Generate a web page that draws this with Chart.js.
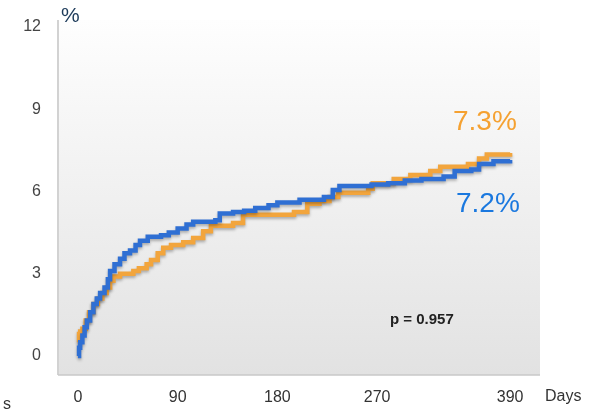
<!DOCTYPE html>
<html>
<head>
<meta charset="utf-8">
<script src="https://cdn.jsdelivr.net/npm/chart.js@4.4.1/dist/chart.umd.min.js"></script>
<style>
  html, body { margin: 0; padding: 0; background: #fff; }
  #wrap { width: 599px; height: 419px; position: relative; }
</style>
</head>
<body>
<div id="wrap"><canvas id="chart-curvas"></canvas></div>
<script>
// dados (dias, % acumulado)
const blueDays   = [0, 1, 2, 4, 6, 8, 11, 14, 17, 20, 24, 27, 29, 33, 38, 42, 47, 52, 56, 63, 75, 82, 90, 98, 104, 124, 128, 140, 150, 160, 172, 180, 200, 222, 230, 236, 265, 280, 295, 310, 330, 340, 355, 362, 375, 390];
const blueValues = [0, 0.3, 0.5, 0.75, 1.05, 1.3, 1.6, 1.9, 2.1, 2.3, 2.5, 2.8, 3.1, 3.35, 3.55, 3.75, 3.85, 4.05, 4.2, 4.35, 4.4, 4.5, 4.65, 4.8, 4.9, 4.95, 5.2, 5.25, 5.3, 5.4, 5.5, 5.6, 5.7, 5.8, 6.05, 6.2, 6.25, 6.3, 6.4, 6.45, 6.55, 6.75, 6.8, 7.0, 7.1, 7.15];
const orangeDays   = [0, 1, 2, 4, 7, 10, 14, 18, 22, 26, 29, 32, 38, 50, 55, 62, 66, 72, 77, 84, 95, 104, 113, 120, 140, 149, 185, 195, 207, 218, 227, 235, 262, 266, 285, 300, 318, 327, 352, 362, 369, 390];
const orangeValues = [0.5, 0.8, 0.9, 1.0, 1.3, 1.6, 1.9, 2.1, 2.3, 2.5, 2.75, 2.9, 3.0, 3.1, 3.2, 3.35, 3.5, 3.75, 3.95, 4.05, 4.15, 4.3, 4.55, 4.75, 4.85, 5.15, 5.15, 5.25, 5.55, 5.65, 5.8, 5.95, 6.1, 6.3, 6.45, 6.6, 6.75, 6.9, 7.0, 7.2, 7.35, 7.4];
const xTicks = [0, 90, 180, 270, 390];
const yTicks = [0, 3, 6, 9, 12];

const AZUL = '#2f6fd3';
const LARANJA = '#f2a53d';

const toPoints = (days, vals) => days.map((d, i) => ({ x: d, y: vals[i] }));

// fundo em degradê + sombra das linhas + textos
const extras = {
  id: 'extras',
  beforeDraw(chart) {
    const { ctx, chartArea: a } = chart;
    const g = ctx.createLinearGradient(0, a.top, 0, a.bottom);
    g.addColorStop(0, '#fefefe');
    g.addColorStop(1, '#e2e2e2');
    ctx.save();
    ctx.fillStyle = g;
    ctx.fillRect(a.left, a.top, a.right - a.left, a.bottom - a.top);
    ctx.restore();
  },
  beforeDatasetDraw(chart) {
    const ctx = chart.ctx;
    ctx.save();
    ctx.shadowColor = 'rgba(0,0,0,0.28)';
    ctx.shadowBlur = 3;
    ctx.shadowOffsetY = 2;
  },
  afterDatasetDraw(chart) {
    chart.ctx.restore();
  },
  afterDraw(chart) {
    const { ctx, chartArea: a } = chart;
    ctx.save();
    // eixos
    ctx.strokeStyle = '#d2d2d2';
    ctx.lineWidth = 2;
    ctx.beginPath();
    ctx.moveTo(a.left, a.top);
    ctx.lineTo(a.left, a.bottom);
    ctx.stroke();
    ctx.strokeStyle = '#c8c8c8';
    ctx.lineWidth = 1.5;
    ctx.beginPath();
    ctx.moveTo(a.left, a.bottom);
    ctx.lineTo(a.right, a.bottom);
    ctx.stroke();

    ctx.textBaseline = 'middle';
    ctx.textAlign = 'left';
    ctx.fillStyle = '#1d3b5a';
    ctx.font = '21px "Liberation Sans", Arial, sans-serif';
    ctx.fillText('%', 61, 16);

    ctx.fillStyle = '#f5a131';
    ctx.font = '28px "Liberation Sans", Arial, sans-serif';
    ctx.fillText('7.3%', 453, 122);
    ctx.fillStyle = '#1a78df';
    ctx.fillText('7.2%', 456, 204);

    ctx.fillStyle = '#222';
    ctx.font = 'bold 15px "Liberation Sans", Arial, sans-serif';
    ctx.fillText('p = 0.957', 390, 320);

    ctx.fillStyle = '#333';
    ctx.font = '16px "Liberation Sans", Arial, sans-serif';
    ctx.fillText('Days', 545, 397);
    ctx.fillText('s', 3, 405);
    ctx.restore();
  }
};

const chartCurvas = new Chart(document.getElementById('chart-curvas').getContext('2d'), {
  type: 'line',
  data: {
    datasets: [
      {
        label: 'Azul',
        data: toPoints(blueDays, blueValues),
        borderColor: AZUL,
        borderWidth: 4.5,
        stepped: true,
        pointRadius: 0,
        fill: false
      },
      {
        label: 'Laranja',
        data: toPoints(orangeDays, orangeValues),
        borderColor: LARANJA,
        borderWidth: 4.5,
        stepped: true,
        pointRadius: 0,
        fill: false
      }
    ]
  },
  options: {
    responsive: true,
    maintainAspectRatio: false,
    animation: false,
    layout: { padding: { top: 20, right: 59, left: 0, bottom: 0 } },
    plugins: {
      legend: { display: false },
      tooltip: { enabled: false }
    },
    scales: {
      x: {
        type: 'linear',
        min: -18,
        max: 417,
        afterBuildTicks: (s) => { s.ticks = xTicks.map(v => ({ value: v })); },
        afterFit: (s) => { s.height = 44; s.paddingLeft = 0; s.paddingRight = 0; },
        grid: { display: false, drawTicks: false },
        border: { display: false },
        ticks: {
          padding: 13,
          color: '#333',
          font: { size: 16, family: '"Liberation Sans", Arial, sans-serif' },
          maxRotation: 0,
          autoSkip: false
        }
      },
      y: {
        min: -0.69,
        max: 12.25,
        afterBuildTicks: (s) => { s.ticks = yTicks.map(v => ({ value: v })); },
        afterFit: (s) => { s.width = 58; s.paddingTop = 0; s.paddingBottom = 0; },
        grid: { display: false, drawTicks: false },
        border: { display: false },
        ticks: {
          padding: 17,
          color: '#444',
          font: { size: 16, family: '"Liberation Sans", Arial, sans-serif' }
        }
      }
    }
  },
  plugins: [extras]
});
</script>
</body>
</html>
